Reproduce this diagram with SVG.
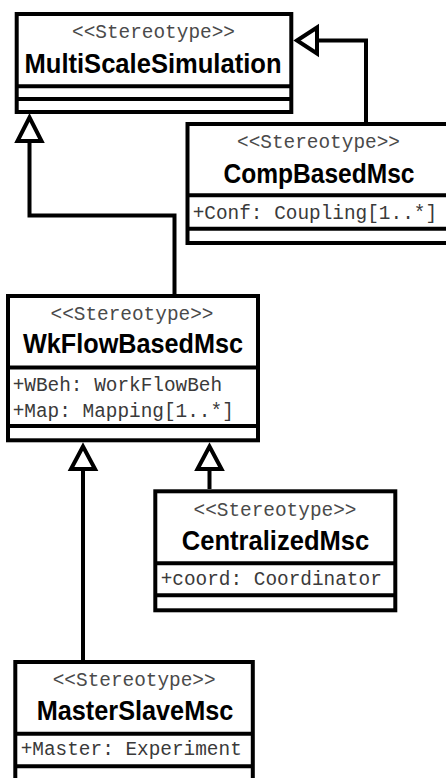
<svg xmlns="http://www.w3.org/2000/svg" width="446" height="778" viewBox="0 0 446 778">
  <style>
    .box { fill: #fff; stroke: #000; stroke-width: 4; }
    .sep { stroke: #000; stroke-width: 4; }
    .stereo { font-family: "Liberation Mono", "Courier New", monospace; font-size: 19.4px; fill: #4a4a4a; text-anchor: middle; }
    .name { font-family: "Liberation Sans", Arial, sans-serif; font-weight: bold; font-size: 27px; fill: #000; text-anchor: middle; }
    .attr { font-family: "Liberation Mono", "Courier New", monospace; font-size: 19.4px; fill: #3a3a3a; }
    .edge { fill: none; stroke: #000; stroke-width: 4; stroke-linejoin: miter; }
    .head { fill: #fff; stroke: #000; stroke-width: 4; stroke-linejoin: miter; }
  </style>

  <rect width="446" height="778" fill="#fff"/>

  <!-- generalization connectors -->
  <g id="connectors">
    <path class="edge" d="M174.5,294 V215.5 H29.5 V141"/>
    <polygon class="head" points="29.5,117.5 17.5,141 41.5,141"/>

    <path class="edge" d="M366,122 V40.5 H317"/>
    <polygon class="head" points="297,40.5 317,27.5 317,53.5"/>

    <path class="edge" d="M83,660 V469"/>
    <polygon class="head" points="83,446.5 71,469 95,469"/>

    <path class="edge" d="M209.5,489 V469"/>
    <polygon class="head" points="209.5,446.5 197.5,469 221.5,469"/>
  </g>

  <g id="MultiScaleSimulation">
    <rect class="box" x="16.7" y="14" width="274.6" height="98"/>
    <line class="sep" x1="16.7" y1="86.3" x2="291.3" y2="86.3"/>
    <line class="sep" x1="16.7" y1="99" x2="291.3" y2="99"/>
    <text class="stereo" x="153.5" y="37.5">&lt;&lt;Stereotype&gt;&gt;</text>
    <text class="name" x="153" y="72.7" textLength="257" lengthAdjust="spacingAndGlyphs">MultiScaleSimulation</text>
  </g>

  <g id="CompBasedMsc">
    <rect class="box" x="187.5" y="124" width="262.5" height="119"/>
    <line class="sep" x1="187.5" y1="195.3" x2="450" y2="195.3"/>
    <line class="sep" x1="187.5" y1="228.7" x2="450" y2="228.7"/>
    <text class="stereo" x="318.5" y="147.7">&lt;&lt;Stereotype&gt;&gt;</text>
    <text class="name" x="319" y="182.7" textLength="191" lengthAdjust="spacingAndGlyphs">CompBasedMsc</text>
    <text class="attr" x="192.7" y="219.3">+Conf: Coupling[1..*]</text>
  </g>

  <g id="WkFlowBasedMsc">
    <rect class="box" x="8" y="296" width="250" height="144.3"/>
    <line class="sep" x1="8" y1="367.5" x2="258" y2="367.5"/>
    <line class="sep" x1="8" y1="426" x2="258" y2="426"/>
    <text class="stereo" x="132" y="320">&lt;&lt;Stereotype&gt;&gt;</text>
    <text class="name" x="133" y="353" textLength="220" lengthAdjust="spacingAndGlyphs">WkFlowBasedMsc</text>
    <text class="attr" x="12.7" y="390.7">+WBeh: WorkFlowBeh</text>
    <text class="attr" x="12.7" y="416.7">+Map: Mapping[1..*]</text>
  </g>

  <g id="CentralizedMsc">
    <rect class="box" x="155.3" y="491.3" width="240" height="119"/>
    <line class="sep" x1="155.3" y1="563.3" x2="395.3" y2="563.3"/>
    <line class="sep" x1="155.3" y1="595.3" x2="395.3" y2="595.3"/>
    <text class="stereo" x="275" y="516">&lt;&lt;Stereotype&gt;&gt;</text>
    <text class="name" x="275.5" y="550" textLength="187.5" lengthAdjust="spacingAndGlyphs">CentralizedMsc</text>
    <text class="attr" x="160.7" y="585.3">+coord: Coordinator</text>
  </g>

  <g id="MasterSlaveMsc">
    <rect class="box" x="15.3" y="662" width="237.5" height="120"/>
    <line class="sep" x1="15.3" y1="733.7" x2="252.8" y2="733.7"/>
    <line class="sep" x1="15.3" y1="766.3" x2="252.8" y2="766.3"/>
    <text class="stereo" x="134.2" y="686">&lt;&lt;Stereotype&gt;&gt;</text>
    <text class="name" x="135" y="720" textLength="196.5" lengthAdjust="spacingAndGlyphs">MasterSlaveMsc</text>
    <text class="attr" x="20.7" y="755">+Master: Experiment</text>
  </g>
</svg>
